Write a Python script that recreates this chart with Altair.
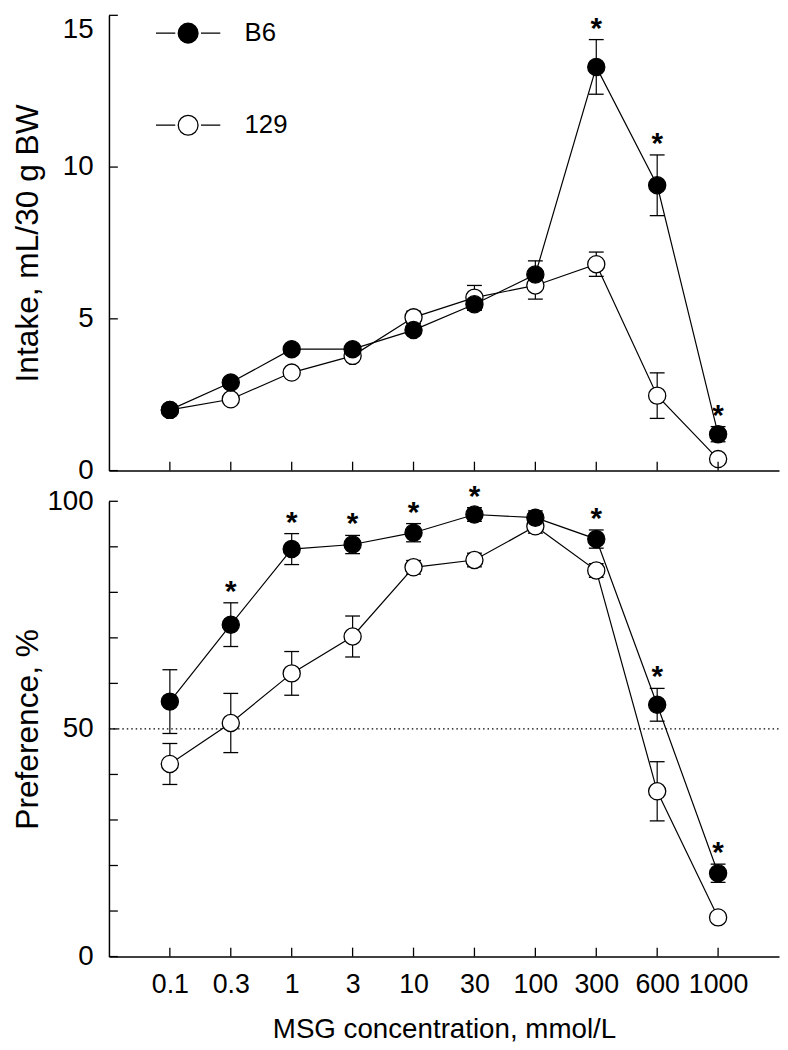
import altair as alt
import pandas as pd

# ---------------- data ----------------
conc = ["0.1", "0.3", "1", "3", "10", "30", "100", "300", "600", "1000"]
strains = ["129", "B6"]

intake_b6 = [2.0, 2.9, 4.0, 4.0, 4.63, 5.48, 6.46, 13.3, 9.4, 1.2]
intake_b6_se = [0.1, 0.15, 0.15, 0.1, 0.15, 0.2, 0.45, 0.9, 1.0, 0.25]
intake_129 = [2.0, 2.35, 3.23, 3.78, 5.05, 5.7, 6.1, 6.8, 2.47, 0.38]
intake_129_se = [0.1, 0.1, 0.1, 0.1, 0.2, 0.4, 0.45, 0.4, 0.75, 0.1]
intake_star = [False, False, False, False, False, False, False, True, True, True]

pref_b6 = [56.0, 72.9, 89.5, 90.5, 93.1, 97.1, 96.4, 91.7, 55.3, 18.3]
pref_b6_se = [7.0, 4.8, 3.4, 2.0, 2.0, 1.5, 1.5, 2.0, 3.6, 2.0]
pref_129 = [42.3, 51.3, 62.2, 70.3, 85.5, 87.1, 94.5, 84.8, 36.3, 8.6]
pref_129_se = [4.5, 6.5, 4.8, 4.5, 1.5, 1.5, 1.5, 1.5, 6.5, 1.0]
pref_star = [False, True, True, True, True, True, False, True, True, True]

intake_ticks = [0, 5, 10, 15]
pref_ticks = [0, 10, 20, 30, 40, 50, 60, 70, 80, 90, 100]
pref_labels = [0, 50, 100]
chance_level = [50]

FONT = "Liberation Sans"
W, H = 677, 460
# legend glyph: short line, circle, short line (10 px per unit at size 400)
LEGEND_PATH = ("M-3.25,0L-1.3,0M1.3,0L3.25,0"
               "M-1,0A1,1,0,1,1,1,0A1,1,0,1,1,-1,0Z")


def long_table(b6, b6_se, s129, s129_se, star):
    rows = []
    for strain, vals, ses, stars in (("129", s129, s129_se, [False] * len(conc)),
                                     ("B6", b6, b6_se, star)):
        for i, c in enumerate(conc):
            rows.append(dict(conc=c, idx=i, strain=strain, mean=vals[i],
                             se=ses[i], star=stars[i]))
    df = pd.DataFrame(rows)
    df["lo"] = df["mean"] - df["se"]
    df["hi"] = df["mean"] + df["se"]
    return df


def panel(df, ydom, yticks, ylabels, ytitle, title_pad, show_x, legend,
          flush_top, extra=None):
    x_axis = alt.Axis(
        title="MSG concentration, mmol/L" if show_x else None,
        labels=show_x, ticks=False, tickSize=0, domain=True,
        domainColor="black", domainWidth=1.5,
        labelAngle=0, labelFontSize=27, labelPadding=15,
        titleFontSize=28, titleFontWeight="normal", titlePadding=19,
        labelColor="black", titleColor="black")
    x_enc = alt.X("conc:O", sort=conc,
                  scale=alt.Scale(type="point", padding=1), axis=x_axis)
    y_scale = alt.Scale(domain=ydom, nice=False, zero=False)
    if flush_top:
        baseline = {"condition": {"test": f"datum.value == {ydom[1]}", "value": "top"},
                    "value": "middle"}
    else:
        baseline = "middle"
    y_axis = alt.Axis(
        title=ytitle, values=ylabels, grid=False, ticks=False, tickSize=0,
        domainColor="black", domainWidth=1.5, labelFontSize=28,
        labelPadding=16, labelColor="black", labelBaseline=baseline,
        titleFontSize=32, titleFontWeight="normal", titleColor="black",
        titlePadding=title_pad)

    def Y(field):
        return alt.Y(field, scale=y_scale, axis=y_axis, title=ytitle)

    base = alt.Chart(df)
    layers = []
    if extra is not None:
        layers.append(
            alt.Chart(pd.DataFrame({"v": extra})).mark_rule(
                color="black", strokeWidth=1.3, strokeDash=[1.5, 3]
            ).encode(y=Y("v:Q"), x=alt.value(0), x2=alt.value(W)))
    layers.append(base.mark_line(color="black", strokeWidth=1.2).encode(
        x=x_enc, y=Y("mean:Q"), detail="strain:N", order="idx:Q"))
    layers.append(base.mark_rule(color="black", strokeWidth=1.2).encode(
        x=x_enc, y=Y("lo:Q"), y2="hi:Q"))
    for f in ("lo:Q", "hi:Q"):
        layers.append(base.mark_tick(color="black", size=15, thickness=1.3,
                                     opacity=1).encode(x=x_enc, y=Y(f)))
    fill = alt.Fill("strain:N",
                    scale=alt.Scale(domain=["B6", "129"], range=["black", "white"]),
                    legend=legend)
    layers.append(base.mark_point(shape="circle", filled=True, size=300,
                                  stroke="black", strokeWidth=1.3,
                                  opacity=1).encode(x=x_enc, y=Y("mean:Q"),
                                                    fill=fill))
    layers.append(base.transform_filter("datum.star").mark_text(
        text="*", font=FONT, fontSize=30, fontWeight="bold",
        baseline="top", dy=-26, color="black"
    ).encode(x=x_enc, y=Y("hi:Q")))
    # inward axis ticks
    layers.append(alt.Chart(pd.DataFrame({"conc": conc})).mark_rule(
        color="black", strokeWidth=1.3).encode(
        x=x_enc, y=alt.value(H), y2=alt.value(H - 9)))
    layers.append(alt.Chart(pd.DataFrame({"v": yticks})).mark_rule(
        color="black", strokeWidth=1.3).encode(
        y=Y("v:Q"), x=alt.value(0), x2=alt.value(9)))
    return alt.layer(*layers).properties(width=W, height=H)


legend = alt.Legend(
    title=None, orient="none", legendX=67, legendY=5,
    symbolType=LEGEND_PATH, symbolSize=400,
    symbolStrokeColor="black", symbolStrokeWidth=1.3,
    labelFont=FONT, labelFontSize=26, labelColor="black",
    labelOffset=44, rowPadding=67)

top = panel(long_table(intake_b6, intake_b6_se, intake_129, intake_129_se, intake_star),
            [0, 15], intake_ticks, intake_ticks, "Intake, mL/30 g BW", 18,
            False, legend, True)
bottom = panel(long_table(pref_b6, pref_b6_se, pref_129, pref_129_se, pref_star),
               [0, 100], pref_ticks, pref_labels, "Preference, %", 2,
               True, None, False, extra=chance_level)

chart = alt.vconcat(top, bottom, spacing=31, bounds="flush").resolve_legend(
    fill="independent"
).properties(
    padding={"left": 3, "right": 0, "top": 0, "bottom": 0}
).configure(font=FONT).configure_view(stroke=None)

chart.save("out.html", embed_options={"renderer": "svg", "actions": False})
